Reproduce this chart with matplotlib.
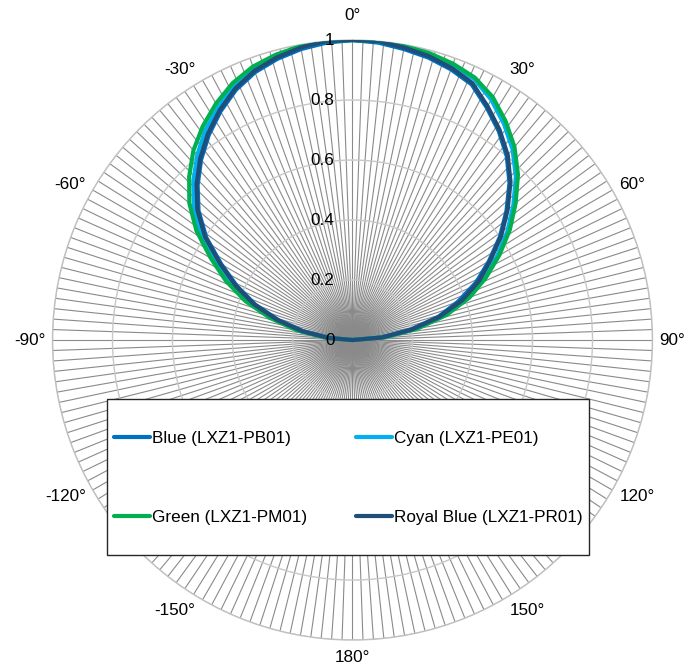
import numpy as np
import matplotlib
matplotlib.use("Agg")
from matplotlib import pyplot as plt
from matplotlib.patches import Rectangle
from matplotlib.transforms import offset_copy

plt.rcParams['font.family'] = ['Liberation Sans', 'DejaVu Sans']

# ----------------- data -----------------
angles_deg = np.arange(-90, 91, 5)

blue = [0.0, 0.075, 0.165, 0.255, 0.345, 0.425, 0.505, 0.595, 0.67, 0.73, 0.785, 0.835,
        0.88, 0.92, 0.95, 0.97, 0.985, 0.995, 1.0, 0.995, 0.985, 0.975, 0.96, 0.94,
        0.895, 0.85, 0.80, 0.74, 0.67, 0.60, 0.525, 0.455, 0.375, 0.295, 0.195, 0.095, 0.0]
cyan = [0.0, 0.085, 0.18, 0.27, 0.36, 0.445, 0.525, 0.615, 0.69, 0.75, 0.805, 0.855,
        0.895, 0.935, 0.96, 0.98, 0.99, 1.0, 1.0, 1.0, 0.995, 0.985, 0.975, 0.96,
        0.925, 0.88, 0.83, 0.77, 0.70, 0.63, 0.555, 0.485, 0.41, 0.32, 0.215, 0.11, 0.0]
green = [0.0, 0.09, 0.19, 0.285, 0.38, 0.465, 0.545, 0.635, 0.71, 0.77, 0.825, 0.87,
         0.91, 0.945, 0.97, 0.985, 0.995, 1.0, 1.0, 1.0, 0.995, 0.99, 0.98, 0.965,
         0.935, 0.89, 0.84, 0.78, 0.71, 0.64, 0.565, 0.49, 0.415, 0.325, 0.22, 0.11, 0.0]
royal = [0.0, 0.08, 0.17, 0.26, 0.35, 0.43, 0.51, 0.60, 0.675, 0.735, 0.79, 0.84,
         0.885, 0.925, 0.955, 0.975, 0.99, 1.0, 1.0, 1.0, 0.99, 0.98, 0.965, 0.945,
         0.90, 0.855, 0.805, 0.745, 0.675, 0.605, 0.53, 0.465, 0.39, 0.30, 0.20, 0.10, 0.0]

series = [
    ("Blue (LXZ1-PB01)", blue, "#0070C0"),
    ("Cyan (LXZ1-PE01)", cyan, "#00B0F0"),
    ("Green (LXZ1-PM01)", green, "#00B050"),
    ("Royal Blue (LXZ1-PR01)", royal, "#1F4E79"),
]

spoke_step = 2                      # one spoke per category
label_step = 30
r_ticks = [0, 0.2, 0.4, 0.6, 0.8, 1.0]
r_labels = ["0", "0.2", "0.4", "0.6", "0.8", "1"]

FS = 12.3

# ----------------- plot -----------------
fig = plt.figure(figsize=(6.87, 6.66), dpi=100)
ax = fig.add_axes([0.0764, 0.039, 0.8734, 0.9009], projection='polar')
ax.set_theta_zero_location('N')
ax.set_theta_direction(-1)

lines = {}
for name, vals, col in series:
    ln, = ax.plot(np.deg2rad(angles_deg), vals, color=col, lw=3,
                  solid_capstyle='round', zorder=3)
    lines[name] = ln

ax.set_ylim(0, 1)
ax.set_yticks(r_ticks[1:])
ax.set_yticklabels([])

spokes = np.arange(0, 360, spoke_step)
ax.set_xticks(np.deg2rad(spokes))
ax.set_xticklabels([])
ax.tick_params(length=0)

ax.xaxis.grid(True, color='#8a8a8a', lw=0.8)
ax.yaxis.grid(True, color='#c8c8c8', lw=1.0)
ax.spines['polar'].set_color('#c0c0c0')
ax.spines['polar'].set_linewidth(1.0)

# angle labels, placed next to the outer ring like Excel does
for d in range(0, 360, label_step):
    v = d if d <= 180 else d - 360
    t = np.deg2rad(d)
    s, c = np.sin(t), np.cos(t)
    if abs(s) < 1e-6:
        ha, dx = 'center', 0
        dy = 25 if c > 0 else -17
    else:
        ha = 'left' if s > 0 else 'right'
        dx = 7 if s > 0 else -7
        dy = 12 * c
    tr = offset_copy(ax.transData, fig=fig, x=dx, y=dy, units='dots')
    ax.text(t, 1.0, f"{v}°", transform=tr, ha=ha, va='center', fontsize=FS,
            color='black', clip_on=False)

lab_tr = offset_copy(ax.transData, fig=fig, x=-18, y=0, units='dots')
for v, s in zip(r_ticks, r_labels):
    ax.text(0, v, s, transform=lab_tr, ha='right', va='center', fontsize=FS,
            color='black', zorder=4)

# legend box
box = Rectangle((107 / 687, 1 - 555 / 666), 482 / 687, 156 / 666,
                transform=fig.transFigure, facecolor='white', edgecolor='#262626',
                lw=1.0, zorder=4)
fig.add_artist(box)

order = ["Blue (LXZ1-PB01)", "Green (LXZ1-PM01)", "Cyan (LXZ1-PE01)", "Royal Blue (LXZ1-PR01)"]
fig.legend([lines[n] for n in order], order, ncol=2, frameon=False,
           loc='center', bbox_to_anchor=(348 / 687, 1 - 478 / 666),
           fontsize=FS, handlelength=2.1, handletextpad=0.12,
           columnspacing=2.87, labelspacing=3.8)

fig.savefig("out.png", dpi=100)
